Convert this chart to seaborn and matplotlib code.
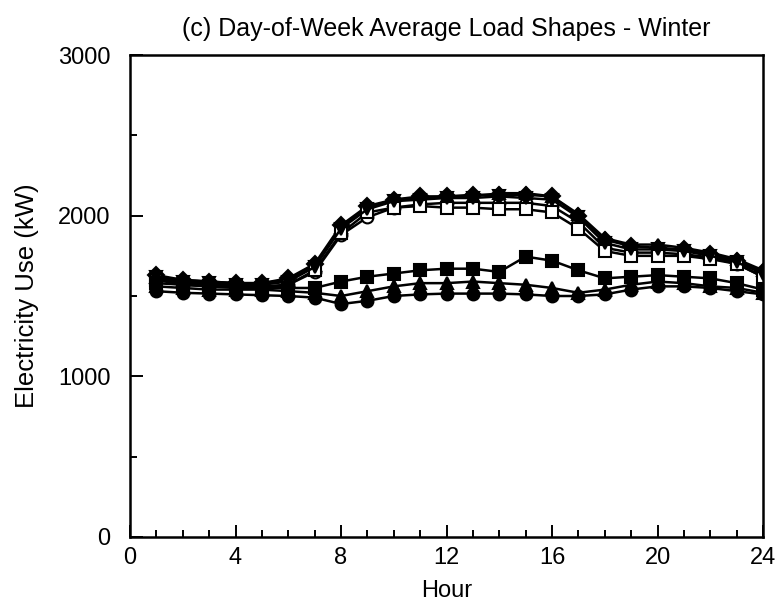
"""
Day-of-week average winter load shapes (hourly electricity use).
"""

import numpy as np
import pandas as pd
import matplotlib
matplotlib.use("Agg")
import matplotlib.pyplot as plt
from matplotlib.ticker import MultipleLocator
import seaborn as sns

sns.set_theme(style="ticks")
plt.rcParams["font.family"] = ["Liberation Sans", "DejaVu Sans"]
plt.rcParams["text.color"] = "black"
plt.rcParams["axes.labelcolor"] = "black"
plt.rcParams["xtick.color"] = "black"
plt.rcParams["ytick.color"] = "black"

HOURS = list(range(1, 25))

# Weekday profiles (kW)
MON = [1610, 1580, 1570, 1560, 1560, 1570, 1650, 1880, 1990, 2050, 2070, 2080,
       2080, 2080, 2080, 2060, 1960, 1800, 1770, 1770, 1760, 1740, 1700, 1620]
TUE = [1630, 1600, 1590, 1580, 1580, 1610, 1700, 1940, 2060, 2100, 2120, 2120,
       2130, 2130, 2130, 2120, 2000, 1850, 1810, 1800, 1790, 1760, 1720, 1650]
WED = [1620, 1600, 1590, 1580, 1580, 1600, 1690, 1930, 2050, 2100, 2110, 2120,
       2120, 2140, 2140, 2120, 2010, 1860, 1820, 1820, 1800, 1770, 1730, 1660]
THU = [1600, 1570, 1560, 1550, 1550, 1570, 1660, 1890, 2020, 2050, 2060, 2050,
       2050, 2040, 2040, 2020, 1920, 1780, 1750, 1750, 1750, 1730, 1700, 1620]
FRI = [1620, 1590, 1580, 1570, 1570, 1590, 1680, 1920, 2040, 2090, 2100, 2110,
       2110, 2120, 2110, 2100, 1990, 1830, 1790, 1790, 1780, 1750, 1710, 1640]

# Weekend / holiday profiles (kW)
SAT = [1580, 1570, 1560, 1560, 1550, 1550, 1550, 1590, 1620, 1640, 1660, 1670,
       1670, 1650, 1745, 1720, 1660, 1610, 1620, 1630, 1620, 1610, 1580, 1540]
HOL = [1560, 1550, 1540, 1540, 1540, 1530, 1520, 1500, 1530, 1560, 1580, 1580,
       1590, 1580, 1570, 1550, 1520, 1540, 1570, 1590, 1580, 1560, 1550, 1520]
SUN = [1530, 1520, 1515, 1510, 1505, 1500, 1490, 1450, 1470, 1500, 1510, 1515,
       1515, 1515, 1510, 1500, 1500, 1510, 1540, 1560, 1560, 1550, 1530, 1510]

SERIES = {
    "Mon": MON, "Tue": TUE, "Wed": WED, "Thu": THU, "Fri": FRI,
    "Sat": SAT, "Holiday": HOL, "Sun": SUN,
}

# marker, face colour
MARKERS = {
    "Mon": ("o", "white"),
    "Tue": ("D", "black"),
    "Wed": ("^", "black"),
    "Thu": ("s", "white"),
    "Fri": ("v", "black"),
    "Sat": ("s", "black"),
    "Holiday": ("^", "black"),
    "Sun": ("o", "black"),
}

df = pd.DataFrame(
    [(day, h, v) for day, vals in SERIES.items() for h, v in zip(HOURS, vals)],
    columns=["day", "hour", "kw"],
)

fig = plt.figure(figsize=(7.81, 6.10), dpi=100)
ax = fig.add_axes([0.1665, 0.1197, 0.8105, 0.7901])

for day, grp in df.groupby("day", sort=False):
    marker, face = MARKERS[day]
    sns.lineplot(
        data=grp, x="hour", y="kw", ax=ax, color="black", linewidth=1.8,
        marker=marker, markersize=8.5, markerfacecolor=face,
        markeredgecolor="black", markeredgewidth=1.5, legend=False,
    )

ax.set_xlim(0, 24)
ax.set_ylim(0, 3000)
ax.xaxis.set_major_locator(MultipleLocator(4))
ax.xaxis.set_minor_locator(MultipleLocator(1))
ax.yaxis.set_major_locator(MultipleLocator(1000))
ax.yaxis.set_minor_locator(MultipleLocator(500))
ax.tick_params(which="both", direction="in", labelsize=17, width=1.4)
ax.tick_params(which="major", length=9)
ax.tick_params(axis="y", which="major", pad=14)
ax.tick_params(axis="x", which="major", pad=7)
ax.tick_params(which="minor", length=5)
for sp in ax.spines.values():
    sp.set_linewidth(1.8)
    sp.set_color("black")

ax.set_xlabel("Hour", fontsize=17, labelpad=8)
ax.set_ylabel("Electricity Use (kW)", fontsize=18.5, labelpad=14)
ax.set_title("(c) Day-of-Week Average Load Shapes - Winter", fontsize=18,
             pad=14)

fig.savefig("out.png", dpi=100)
